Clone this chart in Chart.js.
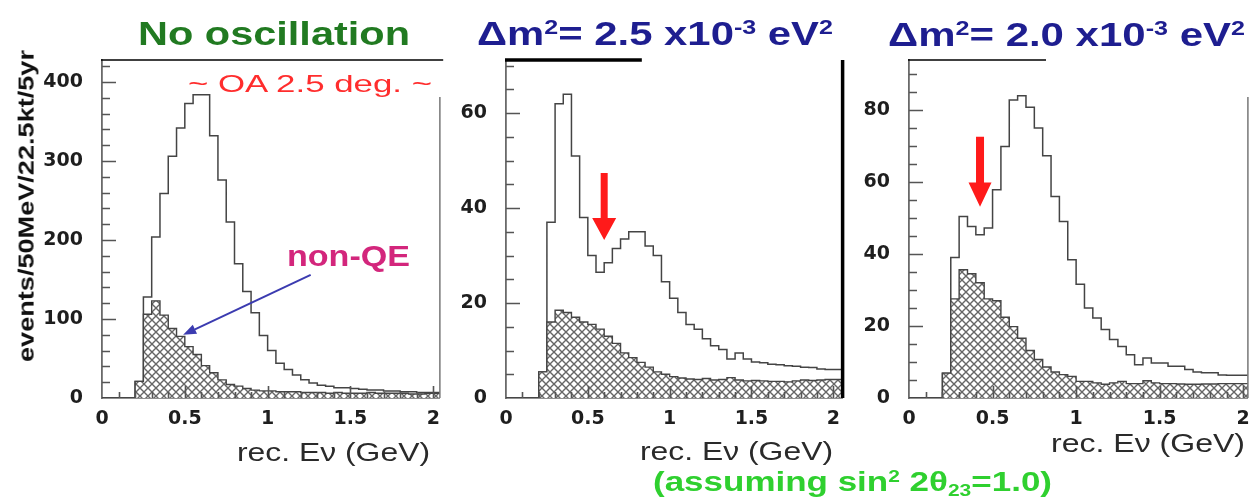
<!DOCTYPE html>
<html><head><meta charset="utf-8">
<script src="https://cdn.jsdelivr.net/npm/chart.js@4.4.1/dist/chart.umd.min.js"></script>
<style>
html,body{margin:0;padding:0;background:#fff;width:1260px;height:503px;overflow:hidden;position:relative;}
canvas{position:absolute;top:0;}
.t{position:absolute;white-space:nowrap;line-height:1;font-family:'Liberation Sans',Arial,sans-serif;transform-origin:0 0;}
.t sup{font-size:0.6em;line-height:0;vertical-align:0.55em;}
.t sub{font-size:0.6em;line-height:0;vertical-align:-0.3em;}
</style></head><body>
<canvas id="c1" width="450" height="503" style="left:0px"></canvas>
<canvas id="c2" width="400" height="503" style="left:450px"></canvas>
<canvas id="c3" width="410" height="503" style="left:850px"></canvas>
<script>
// ---- bin left edges (GeV), 50 MeV bins ----
const binEdges = [0.00,0.05,0.10,0.15,0.20,0.25,0.30,0.35,0.40,0.45,0.50,0.55,0.60,0.65,0.70,0.75,0.80,0.85,0.90,0.95,
                  1.00,1.05,1.10,1.15,1.20,1.25,1.30,1.35,1.40,1.45,1.50,1.55,1.60,1.65,1.70,1.75,1.80,1.85,1.90,1.95];

// ---- Panel 1: No oscillation ----
const noOscTotal = [0,0,0,0,21,128,204,259,306,342,373,384,384,332,276,223,170,135,108,79,
                    60,44,36,29,23,19,16,15,13,13,12,11,10,10,9,9,8,8,7,7];
const noOscNonQE = [0,0,0,0,21,106,123,105,88,78,65,55,41,32,23,17,15,12,10,9,
                    9,8,8,8,7,7,7,6,7,6,6,6,7,6,6,6,6,5,5,6];

// ---- Panel 2: dm2 = 2.5e-3 eV2 ----
const dm25Total = [0,0,0,0,5.5,37,62,64,51,38,30,26.5,28.5,31.5,33.5,35,35,32,30,24.5,
                   21,18,15.5,14.5,12.5,11,10.2,8.2,9.5,8.2,7.6,7.4,7.1,7.0,6.8,6.7,6.5,6.4,6.1,6.0];
const dm25NonQE = [0,0,0,0,5.5,16,18.5,18,17,16,15.5,14.5,13,11.5,9.5,8.5,7.5,6.5,5.5,5,
                   4.5,4.2,4,3.9,4.1,3.8,3.9,4.3,3.8,3.6,3.7,3.6,3.5,3.5,3.4,3.6,3.8,3.7,3.8,3.9];

// ---- Panel 3: dm2 = 2.0e-3 eV2 ----
const dm20Total = [0,0,0,0,6.9,39,50.4,47.6,45.3,47.2,57.8,69.8,82.7,83.9,80.7,74.9,67.2,55.9,49,38.4,
                   31.6,25,22.2,19,16.2,14.3,12,9.2,11.1,9.7,9.7,8.8,8.8,7.9,7.2,7.0,7.0,6.4,6.3,6.3];
const dm20NonQE = [0,0,0,0,6.9,27.5,35.6,34.5,32,27.5,27,22.4,19.8,16.6,13.2,10.7,8.6,7.2,6.5,6.0,
                   4.6,4.6,4.2,3.8,4.2,4.6,4.0,4.0,4.8,4.2,4.0,4.0,3.9,3.8,3.8,3.9,3.9,4.0,4.0,4.0];

// ---- tick labels ----
const xTickValues = [0, 0.5, 1, 1.5, 2];
const yTicksP1 = [0, 100, 200, 300, 400];
const yTicksP2 = [0, 20, 40, 60];
const yTicksP3 = [0, 20, 40, 60, 80];

// ---- texts ----
const panelTitles = ['No oscillation', 'Δm<sup>2</sup>= 2.5 x10<sup>-3</sup> eV<sup>2</sup>', 'Δm<sup>2</sup>= 2.0 x10<sup>-3</sup> eV<sup>2</sup>'];
const xTitle = 'rec. Eν (GeV)';
const yTitle = 'events/50MeV/22.5kt/5yr';
const oaLabel = '~ OA 2.5 deg. ~';
const nonQELabel = 'non-QE';
const assumption = '(assuming sin<sup>2</sup> 2θ<sub>23</sub>=1.0)';

// ---------------------------------------------------------------
function hatch() {
  const c = document.createElement('canvas'); c.width = 8; c.height = 8;
  const g = c.getContext('2d');
  g.fillStyle = '#fff'; g.fillRect(0, 0, 8, 8);
  g.strokeStyle = '#666'; g.lineWidth = 1.4;
  g.beginPath();
  g.moveTo(-1, -1); g.lineTo(9, 9);
  g.moveTo(9, -1); g.lineTo(-1, 9);
  g.stroke();
  return g.createPattern(c, 'repeat');
}

function histPoints(vals, xEnd) {
  const pts = binEdges.map((e, i) => ({x: e, y: vals[i]}));
  pts.push({x: xEnd, y: vals[vals.length - 1]});
  return pts;
}

const decoPlugin = {
  id: 'deco',
  afterDraw(chart, args, o) {
    const {ctx, chartArea: a, scales: {x, y}} = chart;
    ctx.save();
    // inward ticks
    ctx.strokeStyle = '#555'; ctx.lineWidth = 1.6;
    ctx.beginPath();
    for (let i = 1; i * o.yMinor <= y.max + 1e-9; i++) {
      const py = Math.round(y.getPixelForValue(i * o.yMinor)) + 0.5;
      const major = (i * o.yMinor) % o.yMajor === 0;
      ctx.moveTo(a.left, py); ctx.lineTo(a.left + (major ? 14 : 8), py);
    }
    for (let i = 1; i * 0.1 <= x.max + 1e-9; i++) {
      const px = Math.round(x.getPixelForValue(i * 0.1)) + 0.5;
      const major = i % 5 === 0;
      ctx.moveTo(px, a.bottom); ctx.lineTo(px, a.bottom - (major ? 12 : 6));
    }
    ctx.stroke();
    // frame pieces
    ctx.strokeStyle = '#000'; ctx.lineWidth = o.topWidth;
    ctx.beginPath();
    ctx.moveTo(a.left - 1, a.top); ctx.lineTo(x.getPixelForValue(o.topEnd), a.top);
    ctx.stroke();
    ctx.strokeStyle = o.rightColor; ctx.lineWidth = o.rightWidth;
    ctx.beginPath();
    ctx.moveTo(a.right, a.top + o.rightGap); ctx.lineTo(a.right, a.bottom);
    ctx.stroke();
    // arrows
    (o.arrows || []).forEach(ar => {
      if (ar.type === 'thin') {
        const x0 = x.getPixelForValue(ar.from[0]), y0 = y.getPixelForValue(ar.from[1]);
        const x1 = x.getPixelForValue(ar.to[0]), y1 = y.getPixelForValue(ar.to[1]);
        const ang = Math.atan2(y1 - y0, x1 - x0);
        const hl = 13, hw = 5;
        ctx.strokeStyle = ar.color; ctx.fillStyle = ar.color; ctx.lineWidth = 2;
        ctx.beginPath(); ctx.moveTo(x0, y0);
        ctx.lineTo(x1 - hl * Math.cos(ang), y1 - hl * Math.sin(ang)); ctx.stroke();
        ctx.beginPath();
        ctx.moveTo(x1, y1);
        ctx.lineTo(x1 - hl * Math.cos(ang) + hw * Math.sin(ang), y1 - hl * Math.sin(ang) - hw * Math.cos(ang));
        ctx.lineTo(x1 - hl * Math.cos(ang) - hw * Math.sin(ang), y1 - hl * Math.sin(ang) + hw * Math.cos(ang));
        ctx.closePath(); ctx.fill();
      } else {
        const px = x.getPixelForValue(ar.x);
        const yt = y.getPixelForValue(ar.top), yh = y.getPixelForValue(ar.head), yp = y.getPixelForValue(ar.tip);
        const sw = ar.shaft / 2, hw = ar.width / 2;
        ctx.fillStyle = ar.color;
        ctx.beginPath();
        ctx.moveTo(px - sw, yt); ctx.lineTo(px + sw, yt); ctx.lineTo(px + sw, yh);
        ctx.lineTo(px + hw, yh); ctx.lineTo(px, yp); ctx.lineTo(px - hw, yh); ctx.lineTo(px - sw, yh);
        ctx.closePath(); ctx.fill();
      }
    });
    ctx.restore();
  }
};

function makePanel(id, total, nonqe, cfg) {
  const ctx = document.getElementById(id).getContext('2d');
  const tickFont = {family: 'DejaVu Sans', size: 19, weight: 'bold'};
  return new Chart(ctx, {
    type: 'line',
    data: {datasets: [
      {label: 'non-QE', data: histPoints(nonqe, cfg.xMax), stepped: 'before', fill: 'origin',
       backgroundColor: hatch(), borderColor: '#444', borderWidth: 1.4, pointRadius: 0},
      {label: 'total', data: histPoints(total, cfg.xMax), stepped: 'before', fill: false,
       borderColor: '#444', borderWidth: 1.5, pointRadius: 0}
    ]},
    options: {
      responsive: false, animation: false, events: [],
      layout: {padding: {top: 60, right: cfg.padRight, left: 0, bottom: 0}},
      plugins: {legend: {display: false}, tooltip: {enabled: false}, deco: cfg.deco},
      scales: {
        x: {type: 'linear', min: 0, max: cfg.xMax,
            afterBuildTicks: s => { s.ticks = xTickValues.map(v => ({value: v})); },
            afterFit: s => { s.height = 105; },
            ticks: {font: tickFont, color: '#1e1e1e', padding: 10, maxRotation: 0, autoSkip: false, callback: v => String(v)},
            grid: {display: false, drawTicks: false},
            border: {display: true, color: '#6a6a6a', width: 1.8}},
        y: {type: 'linear', min: 0, max: cfg.yMax,
            afterBuildTicks: s => { s.ticks = cfg.yTicks.map(v => ({value: v})); },
            afterFit: s => { s.width = cfg.yWidth; },
            ticks: {font: tickFont, color: '#1e1e1e', padding: 19, autoSkip: false, callback: v => String(v)},
            grid: {display: false, drawTicks: false},
            border: {display: true, color: '#6a6a6a', width: 1.8}}
      }
    },
    plugins: [decoPlugin]
  });
}

makePanel('c1', noOscTotal, noOscNonQE, {
  xMax: 2.04, yMax: 428, yTicks: yTicksP1, yWidth: 102, padRight: 7,
  deco: {yMinor: 20, yMajor: 100, topWidth: 1.6, topEnd: 2.06, rightColor: '#777', rightWidth: 1.5, rightGap: 37,
         arrows: [{type: 'thin', color: '#3b3bb0', from: [1.26, 156], to: [0.49, 80]}]}
});
makePanel('c2', dm25Total, dm25NonQE, {
  xMax: 2.057, yMax: 71.2, yTicks: yTicksP2, yWidth: 56, padRight: 4,
  deco: {yMinor: 5, yMajor: 20, topWidth: 3.5, topEnd: 0.83, rightColor: '#000', rightWidth: 3.5, rightGap: 0,
         arrows: [{type: 'block', color: '#ff1a1a', x: 0.60, top: 47.4, head: 37.9, tip: 33.3, shaft: 7, width: 24}]}
});
makePanel('c3', dm20Total, dm20NonQE, {
  xMax: 2.028, yMax: 93.8, yTicks: yTicksP3, yWidth: 59, padRight: 12,
  deco: {yMinor: 5, yMajor: 20, topWidth: 1.6, topEnd: 0.82, rightColor: '#777', rightWidth: 1.5, rightGap: 37,
         arrows: [{type: 'block', color: '#ff1a1a', x: 0.425, top: 72.5, head: 59.8, tip: 53.1, shaft: 8, width: 23}]}
});

// ---- text overlays ----
function place(t) {
  const s = document.createElement('div');
  s.className = 't'; s.innerHTML = t.html;
  s.style.fontSize = t.size + 'px'; s.style.fontWeight = t.weight || 'normal'; s.style.color = t.color;
  document.body.appendChild(s);
  const w = s.getBoundingClientRect().width;
  s.style.left = t.x + 'px'; s.style.top = (t.base - 0.847 * t.size) + 'px';
  s.style.transform = 'scaleX(' + (t.w / w) + ')';
}
[
  {html: panelTitles[0], x: 138, w: 272, base: 45, size: 34, color: '#217a21', weight: 'bold'},
  {html: panelTitles[1], x: 477, w: 356, base: 45, size: 33, color: '#1e1e90', weight: 'bold'},
  {html: panelTitles[2], x: 888, w: 357, base: 46, size: 33, color: '#1e1e90', weight: 'bold'},
  {html: oaLabel, x: 188, w: 244, base: 92, size: 24, color: '#ff2d2d'},
  {html: nonQELabel, x: 287, w: 123, base: 266, size: 30, color: '#d3267c', weight: 'bold'},
  {html: xTitle, x: 237, w: 193, base: 461, size: 25, color: '#2a2a2a'},
  {html: xTitle, x: 640, w: 193, base: 460, size: 25, color: '#2a2a2a'},
  {html: xTitle, x: 1051, w: 194, base: 452, size: 25, color: '#2a2a2a'},
  {html: assumption, x: 653, w: 399, base: 492, size: 28, color: '#2fd02f', weight: 'bold'}
].forEach(place);

(function () {
  const s = document.createElement('div');
  s.className = 't'; s.textContent = yTitle;
  s.style.fontSize = '22px'; s.style.fontWeight = 'bold'; s.style.color = '#111';
  document.body.appendChild(s);
  const r = s.getBoundingClientRect();
  const cx = 27, cy = 206, L = 312;
  s.style.left = (cx - r.width / 2) + 'px'; s.style.top = (cy - r.height / 2) + 'px';
  s.style.transformOrigin = '50% 50%';
  s.style.transform = 'rotate(-90deg) scaleX(' + (L / r.width) + ')';
})();
</script>
</body></html>
